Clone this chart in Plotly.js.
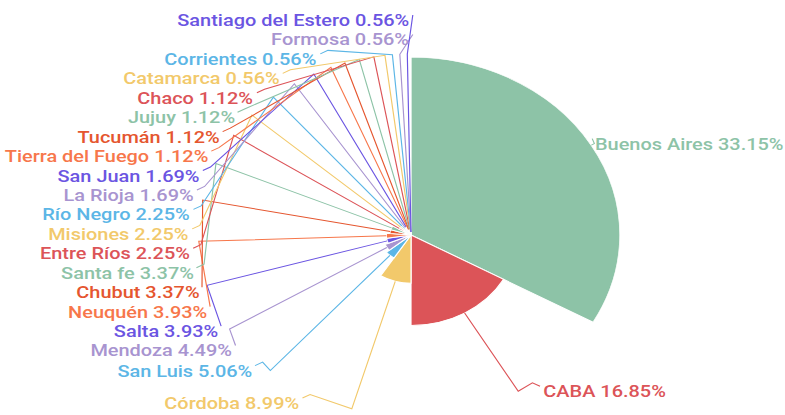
<!DOCTYPE html>
<html>
<head>
<meta charset="utf-8">
<script src="https://cdn.plot.ly/plotly-3.0.1.min.js"></script>
<style>
html,body{margin:0;padding:0;background:#fff;overflow:hidden;}
#chart{width:669px;height:415px;transform:scaleX(1.1734);transform-origin:0 0;}
</style>
</head>
<body>
<div id="chart"></div>
<script>
// ---- data ----
const provinces = ['Buenos Aires','CABA','Córdoba','San Luis','Mendoza','Salta','Neuquén','Chubut',
  'Santa fe','Entre Ríos','Misiones','Río Negro','La Rioja','San Juan','Tierra del Fuego','Tucumán',
  'Jujuy','Chaco','Catamarca','Corrientes','Formosa','Santiago del Estero'];
const shares = [33.15,16.85,8.99,5.06,4.49,3.93,3.93,3.37,3.37,2.25,2.25,2.25,1.69,1.69,1.12,1.12,
  1.12,1.12,0.56,0.56,0.56,0.56];

// ---- style ----
const palette = ['#8dc3a7','#dc5458','#f2c96b','#5cb6e6','#a894d0','#6b55e2','#f7774b','#e5562f'];
const FONT = {family:'Roboto, "Open Sans", sans-serif', size:17, weight:500};

// ---- geometry (layout space, before the horizontal stretch) ----
const W = 669, H = 415;
const CX = 350.3, CY = 235, R = 178;

const total = shares.reduce((a,b)=>a+b,0);
const thetas = [], widths = [];
let acc = 0;
shares.forEach(v => { const w = v/total*360; thetas.push(acc + w/2); widths.push(w); acc += w; });
const colors = shares.map((_,i)=>palette[i % palette.length]);
const rmax = Math.max(...shares);
const labelText = shares.map((v,i)=>provinces[i] + ' ' + v.toFixed(2) + '%');

// text measuring (to keep labels inside the view)
const ctx = document.createElement('canvas').getContext('2d');
ctx.font = FONT.weight + ' ' + FONT.size + 'px Roboto';
const textW = t => ctx.measureText(t).width;

// label layout
const RL = R + 3, RA = 188, RB = 194, LH = 19.44, YMIN = 20, YMAX = 403, PAD = 2;
const items = shares.map((v,i)=>{
  const a = thetas[i]*Math.PI/180;
  return {i, a, side: Math.sin(a) < 0 ? -1 : 1, ideal: CY - RL*Math.cos(a), y: 0};
});
function place(list){
  list.sort((p,q)=>p.ideal-q.ideal);
  const clusters = list.map(it=>({items:[it]}));
  const topOf = c => {
    const n = c.items.length;
    const mean = c.items.reduce((s,it)=>s+it.ideal,0)/n;
    let t = mean - (n-1)*LH/2;
    return Math.max(YMIN, Math.min(YMAX-(n-1)*LH, t));
  };
  let changed = true;
  while(changed){
    changed = false;
    for(let k=0;k<clusters.length-1;k++){
      const a = clusters[k], b = clusters[k+1];
      const aBottom = topOf(a) + (a.items.length-1)*LH;
      if(topOf(b) - aBottom < LH){
        a.items = a.items.concat(b.items); clusters.splice(k+1,1); changed = true; break;
      }
    }
  }
  clusters.forEach(c=>{ const t = topOf(c); c.items.forEach((it,j)=>{ it.y = t + j*LH; }); });
}
place(items.filter(it=>it.side<0));
place(items.filter(it=>it.side>0));

const px = x => x/W, py = y => 1 - y/H;
const shapes = [], annotations = [];
items.forEach(it=>{
  const i = it.i, a = it.a, s = it.side;
  const rs = R*shares[i]/rmax;
  const p0 = [CX + rs*Math.sin(a), CY - rs*Math.cos(a)];
  const p1 = [CX + RL*Math.sin(a), CY - RL*Math.cos(a)];
  const dy = it.y - CY;
  const dx = RA*Math.sqrt(Math.max(0, 1 - (dy*dy)/(RB*RB)));
  let edge = CX + s*dx;
  const tw = textW(labelText[i]);
  if(s > 0) edge = Math.min(edge, W - PAD - tw);
  else edge = Math.max(edge, PAD + tw);
  const p2 = [edge - s*8, it.y - 8.5];
  const p3 = [edge - s*1.5, it.y - 5];
  const pts = [p0,p1];
  if ((p2[0]-p1[0])*s > 0) pts.push(p2);
  pts.push(p3);
  shapes.push({type:'path', xref:'paper', yref:'paper', layer:'above',
    path: pts.map((p,k)=>(k?'L':'M')+px(p[0]).toFixed(5)+','+py(p[1]).toFixed(5)).join(' '),
    line:{color:colors[i], width:1}});
  annotations.push({xref:'paper', yref:'paper', x:px(edge), y:py(it.y),
    xanchor: s<0 ? 'right' : 'left', yanchor:'middle', showarrow:false,
    text: labelText[i],
    font: Object.assign({}, FONT, {color: colors[i]}), borderpad:0});
});

const trace = {
  type:'barpolar', r: shares, theta: thetas, width: widths,
  marker:{color: colors, line:{color:'#ffffff', width:1}},
  hoverinfo:'none', showlegend:false
};

const layout = {
  width:W, height:H, margin:{l:0,r:0,t:0,b:0},
  paper_bgcolor:'#fff', showlegend:false,
  polar:{
    domain:{x:[(CX-R)/W,(CX+R)/W], y:[(H-CY-R)/H,(H-CY+R)/H]},
    bgcolor:'rgba(0,0,0,0)', bargap:0, hole:0,
    radialaxis:{visible:false, range:[0, rmax]},
    angularaxis:{visible:false, rotation:90, direction:'clockwise', thetaunit:'degrees'}
  },
  shapes, annotations
};
Plotly.newPlot('chart',[trace],layout,{staticPlot:true, displayModeBar:false});
</script>
</body>
</html>
